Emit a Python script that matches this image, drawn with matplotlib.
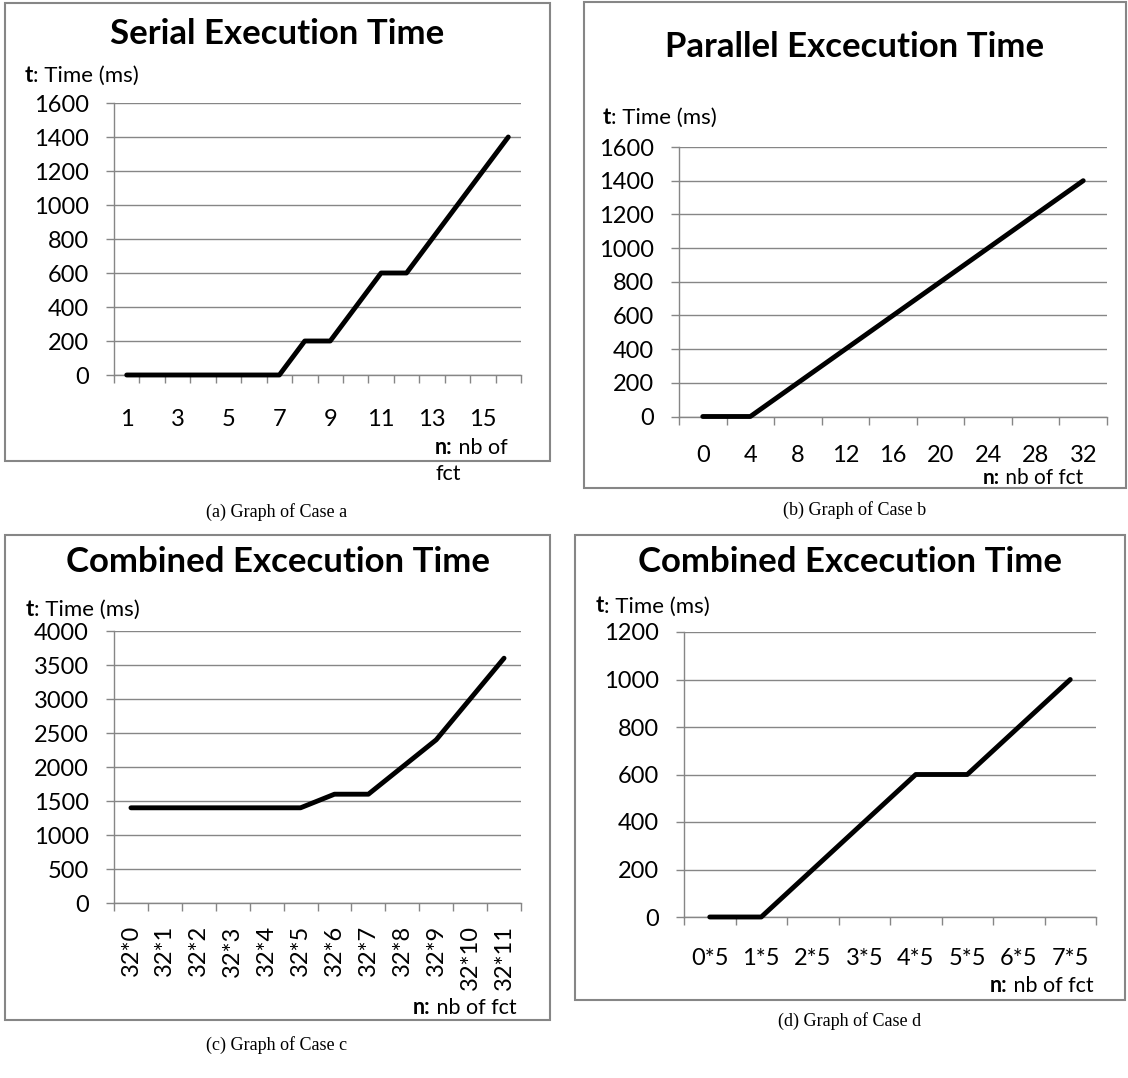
import matplotlib
matplotlib.use("Agg")
import matplotlib.pyplot as plt
from matplotlib.patches import Rectangle

# values
a_labels = ["1", "2", "3", "4", "5", "6", "7", "8", "9", "10", "11", "12", "13", "14", "15", "16"]
a_values = [0, 0, 0, 0, 0, 0, 0, 200, 200, 400, 600, 600, 800, 1000, 1200, 1400]

b_labels = ["0", "4", "8", "12", "16", "20", "24", "28", "32"]
b_values = [0, 0, 200, 400, 600, 800, 1000, 1200, 1400]

c_labels = ["32*0", "32*1", "32*2", "32*3", "32*4", "32*5", "32*6", "32*7", "32*8", "32*9", "32*10", "32*11"]
c_values = [1400, 1400, 1400, 1400, 1400, 1400, 1600, 1600, 2000, 2400, 3000, 3600]

d_labels = ["0*5", "1*5", "2*5", "3*5", "4*5", "5*5", "6*5", "7*5"]
d_values = [0, 0, 200, 400, 600, 600, 800, 1000]

W, H = 1128, 1078
GRAY = "#868686"

plt.rcParams["font.family"] = ["Lato", "DejaVu Sans"]
fig = plt.figure(figsize=(W / 100, H / 100), dpi=100)


def fx(x):
    return x / W


def fy(y):
    return 1 - y / H


def draw_panel(box, plot, title, title_y, labels, values, ymax, ystep,
               t_pos, n_pos, caption, cap_pos, xpad, every=1, rotate=False,
               wrap=False, nsize=15.5):
    l, t, r, b = box
    fig.patches.append(Rectangle((fx(l), fy(b)), fx(r) - fx(l), fy(t) - fy(b),
                                 transform=fig.transFigure, fill=False,
                                 edgecolor=GRAY, lw=1.5))
    pl, pt, pr, pb = plot
    ax = fig.add_axes([fx(pl), fy(pb), fx(pr) - fx(pl), fy(pt) - fy(pb)])
    n = len(values)
    xs = list(range(n))
    ax.plot(xs, values, color="black", lw=3.5, solid_capstyle="round",
            zorder=3, clip_on=False)
    ax.set_xlim(-0.5, n - 0.5)
    ax.set_ylim(0, ymax)
    ax.set_yticks(range(0, ymax + 1, ystep))
    ax.set_xticks([i - 0.5 for i in range(n + 1)])
    ax.set_xticklabels([])
    ax.set_xticks(xs, minor=True)
    shown = [lab if i % every == 0 else "" for i, lab in enumerate(labels)]
    ax.set_xticklabels(shown, minor=True, rotation=90 if rotate else 0,
                       va="top", ha="center")
    ax.tick_params(axis="x", which="minor", length=0, pad=xpad, labelsize=17)
    ax.tick_params(axis="x", which="major", length=6, width=1, color=GRAY, direction="out")
    ax.tick_params(axis="y", length=6, width=1, color=GRAY, direction="out",
                   pad=12, labelsize=17)
    ax.yaxis.grid(True, color=GRAY, lw=1)
    ax.set_axisbelow(True)
    for s in ("top", "right"):
        ax.spines[s].set_visible(False)
    for s in ("left", "bottom"):
        ax.spines[s].set_color(GRAY)
        ax.spines[s].set_linewidth(1)

    fig.text(fx((l + r) / 2), fy(title_y), title, ha="center", va="center",
             fontsize=25, fontweight="bold")

    tt = fig.text(fx(t_pos[0]), fy(t_pos[1]), "t", ha="left", va="center",
                  fontsize=16, fontweight="bold")
    ax.annotate(": Time (ms)", xy=(1, 0), xycoords=tt, ha="left", va="bottom",
                fontsize=16, annotation_clip=False)

    nn = fig.text(fx(n_pos[0]), fy(n_pos[1]), "n:", ha="left", va="center",
                  fontsize=nsize, fontweight="bold")
    if wrap:
        ax.annotate(" nb of", xy=(1, 0), xycoords=nn, ha="left", va="bottom",
                    fontsize=nsize, annotation_clip=False)
        ax.annotate("fct", xy=(0, 0), xycoords=nn, xytext=(0, -5),
                    textcoords="offset points", ha="left", va="top",
                    fontsize=nsize, annotation_clip=False)
    else:
        ax.annotate(" nb of fct", xy=(1, 0), xycoords=nn, ha="left", va="bottom",
                    fontsize=nsize, annotation_clip=False)

    fig.text(fx(cap_pos[0]), fy(cap_pos[1]), caption, ha="center", va="center",
             fontsize=13, family="Liberation Serif")


draw_panel((5, 3, 550, 461), (114, 103, 521, 375), "Serial Execution Time", 34,
           a_labels, a_values, 1600, 200, (25, 75), (435, 447),
           "(a) Graph of Case a", (277, 512), xpad=24.5, every=2, wrap=True)

draw_panel((584, 2, 1126, 488), (679, 147, 1107, 416.5), "Parallel Excecution Time", 47,
           b_labels, b_values, 1600, 200, (603, 117), (983, 478),
           "(b) Graph of Case b", (855, 510), xpad=20.5, nsize=15)

draw_panel((5, 535, 550, 1020), (114, 631, 521, 903), "Combined Excecution Time", 562,
           c_labels, c_values, 4000, 500, (26, 609), (413, 1007),
           "(c) Graph of Case c", (277, 1045), xpad=16, rotate=True)

draw_panel((575, 535, 1125, 1000), (684, 632, 1096, 917), "Combined Excecution Time", 562,
           d_labels, d_values, 1200, 200, (596, 606), (990, 985),
           "(d) Graph of Case d", (850, 1021), xpad=22)

fig.savefig("out.png", dpi=100)
